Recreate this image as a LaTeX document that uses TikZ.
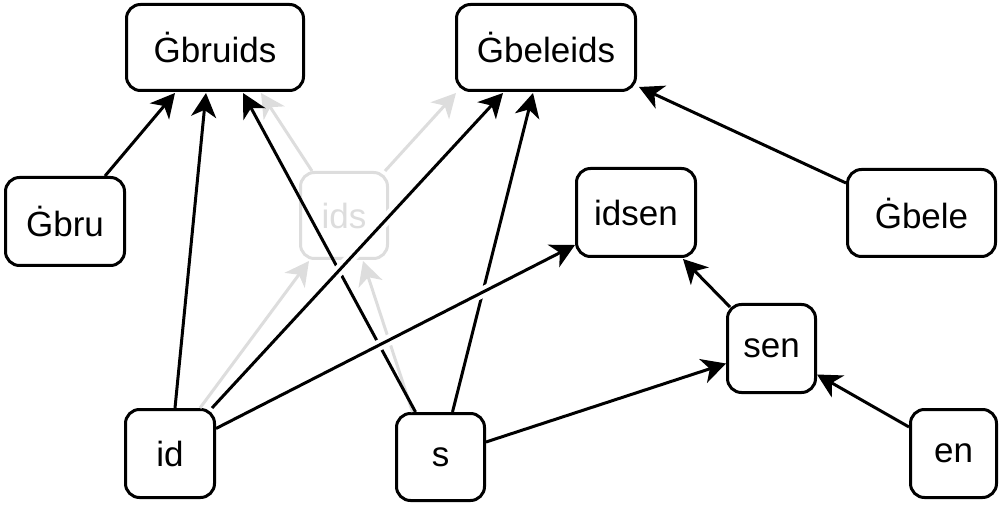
\documentclass[tikz,border=0pt]{standalone}
\usepackage{fontspec}
\setmainfont{Liberation Sans}
\usetikzlibrary{
    arrows.meta,
    calc
}
\definecolor{faded}{RGB}{221,221,221}

\begin{document}
\begin{tikzpicture}[
    x=1pt, y=-1pt,
    font=\fontsize{35}{42}\selectfont,
    box/.style={
        rectangle,
        rounded corners=14pt,
        draw=black,
        line width=3pt,
        align=center,
        inner sep=0pt,
        minimum width=88pt,
        minimum height=88pt,
        fill=white
    },
    faded box/.style={
        box,
        draw=faded,
        text=faded
    },
    arrow/.style={
        -{Stealth[length=24pt,width=25pt,inset=7pt]},
        line width=3pt,
        draw=black
    },
    faded arrow/.style={
        arrow,
        draw=faded
    },
    gapped/.style={
        preaction={draw=white, -, line width=11pt, shorten <=10pt, shorten >=30pt}
    }
]
\useasboundingbox (0,0) rectangle (1005,513);

% =========================================================
% Compounds
% =========================================================
\node[box, minimum width=177pt, minimum height=86pt] (bruids) at (215,47.5) {Ġbruids};
\node[box, minimum width=179pt, minimum height=86pt] (beleids) at (546,47.5) {Ġbeleids};
\node[box, minimum width=119pt] (idsen) at (636,212.5) {idsen};
\node[faded box, minimum width=87pt, minimum height=86pt] (ids) at (344,215.5) {ids};

% =========================================================
% Stems and parts
% =========================================================
\node[box, minimum width=119pt] (bru) at (65,221.5) {Ġbru};
\node[box, minimum width=148pt, minimum height=87pt] (bele) at (921.5,213) {Ġbele};
\node[box] (sen) at (771.5,348.5) {sen};
\node[box, minimum width=89pt] (id) at (170,453.5) {id};
\node[box, minimum height=87pt] (s) at (440.5,457) {s};
\node[box, minimum width=86pt] (en) at (953.5,453.5) {en};

% =========================================================
% Faded route through ids
% =========================================================
\draw[faded arrow] ($(id.north)+(30,0)$) -- ($(ids.south)+(-35,1)$);
\draw[faded arrow] ($(s.north)+(-28,0)$) -- ($(ids.south)+(19,1)$);
\draw[faded arrow] ($(ids.north)+(-32,0)$) -- ($(bruids.south)+(46,1)$);
\draw[faded arrow] ($(ids.north)+(41,0)$) -- ($(beleids.south west)+(1,1)$);

% =========================================================
% Arrows from s
% =========================================================
\draw[arrow] ($(s.north)+(-25,0)$) -- ($(bruids.south)+(28,1)$);
\draw[arrow] ($(s.north)+(12,0)$) -- ($(beleids.south)+(-13,1)$);
\draw[arrow] ($(s.east)+(0,-15)$) -- ($(sen.west)+(0,15)$);

% =========================================================
% Arrows from id
% =========================================================
\draw[arrow] ($(id.north)+(5,0)$) -- ($(bruids.south)+(-9,1)$);
\draw[arrow, gapped] ($(id.north east)+(-4,0)$) -- ($(beleids.south)+(-43,1)$);
\draw[arrow, gapped] ($(id.east)+(0,-25)$) -- ($(idsen.south west)+(0,-13)$);

% =========================================================
% Remaining arrows
% =========================================================
\draw[arrow] ($(bru.north)+(40,0)$) -- ($(bruids.south)+(-40,1)$);
\draw[arrow] ($(bele.north west)+(0,15)$) -- ($(beleids.south east)+(2,-5)$);
\draw[arrow] ($(sen.north west)+(4,4)$) -- ($(idsen.south east)+(-14,1)$);
\draw[arrow] ($(en.north west)+(0,19)$) -- ($(sen.east)+(0,26)$);

\end{tikzpicture}
\end{document}
